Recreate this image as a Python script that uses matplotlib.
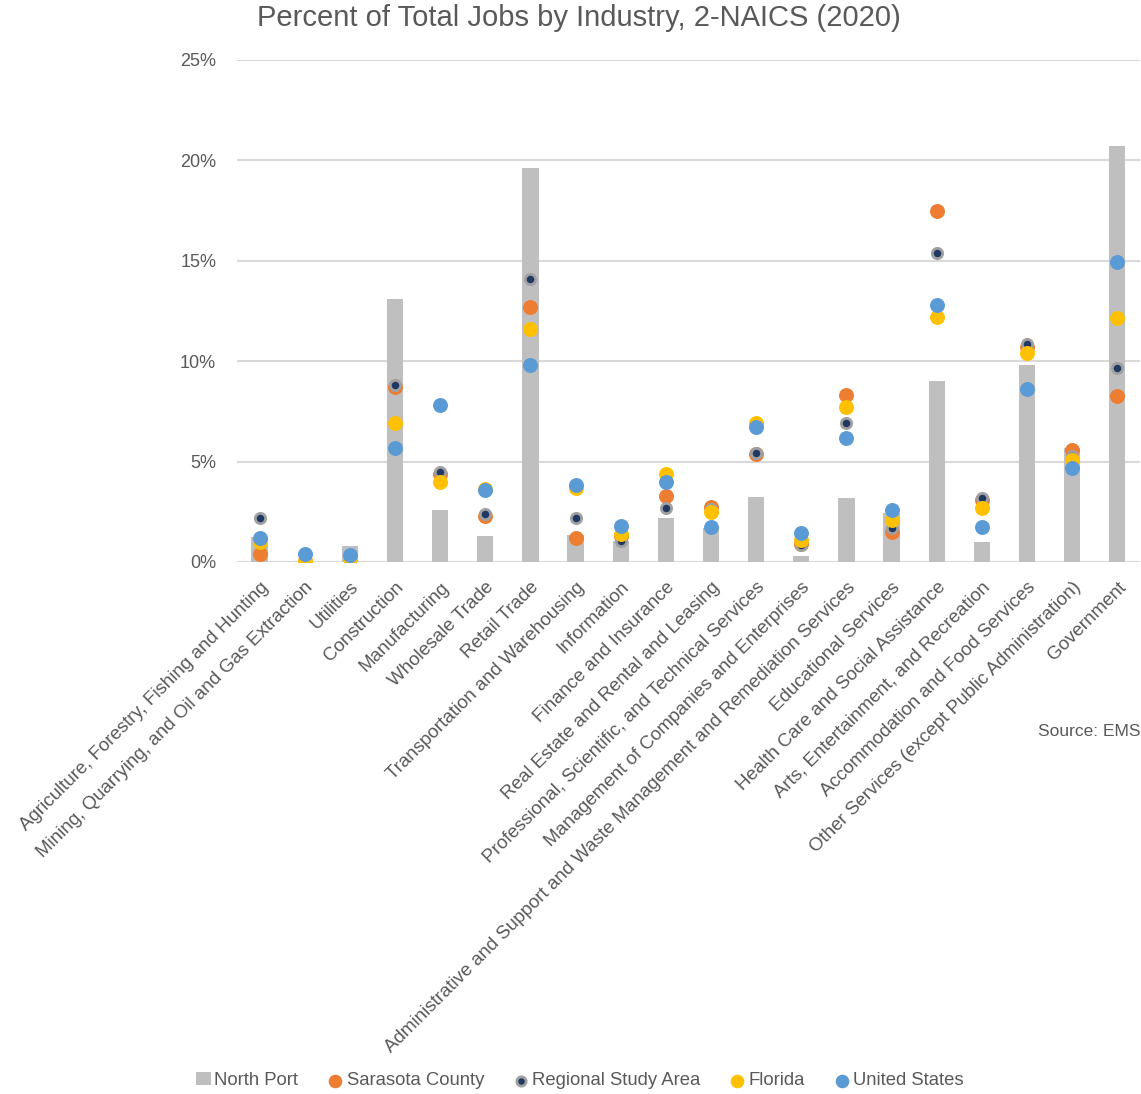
import numpy as np
import matplotlib
matplotlib.use('Agg')
import matplotlib.pyplot as plt
from matplotlib.ticker import FuncFormatter

plt.rcParams['font.family'] = ['Liberation Sans', 'DejaVu Sans']

industries = [
    'Agriculture, Forestry, Fishing and Hunting',
    'Mining, Quarrying, and Oil and Gas Extraction',
    'Utilities',
    'Construction',
    'Manufacturing',
    'Wholesale Trade',
    'Retail Trade',
    'Transportation and Warehousing',
    'Information',
    'Finance and Insurance',
    'Real Estate and Rental and Leasing',
    'Professional, Scientific, and Technical Services',
    'Management of Companies and Enterprises',
    'Administrative and Support and Waste Management and Remediation Services',
    'Educational Services',
    'Health Care and Social Assistance',
    'Arts, Entertainment, and Recreation',
    'Accommodation and Food Services',
    'Other Services (except Public Administration)',
    'Government',
]

# percent of total jobs
north_port = [1.25, 0.02, 0.8, 13.1, 2.6, 1.3, 19.6, 1.35, 1.05, 2.2,
              1.7, 3.25, 0.3, 3.2, 2.45, 9.0, 1.0, 9.8, 5.7, 20.7]
sarasota = [0.4, 0.05, 0.2, 8.7, 4.4, 2.3, 12.7, 1.2, 1.3, 3.3,
            2.75, 5.4, 0.9, 8.3, 1.5, 17.5, 3.1, 10.7, 5.6, 8.25]
regional = [2.2, 0.05, 0.25, 8.8, 4.5, 2.4, 14.1, 2.2, 1.05, 2.7,
            2.65, 5.45, 0.85, 6.9, 1.7, 15.4, 3.2, 10.85, 5.3, 9.65]
florida = [1.0, 0.05, 0.2, 6.9, 4.0, 3.65, 11.6, 3.7, 1.4, 4.4,
           2.5, 6.9, 1.1, 7.7, 2.1, 12.2, 2.7, 10.4, 5.1, 12.15]
united_states = [1.2, 0.4, 0.35, 5.7, 7.8, 3.6, 9.8, 3.85, 1.8, 4.0,
                 1.75, 6.7, 1.45, 6.15, 2.6, 12.8, 1.75, 8.6, 4.7, 14.95]

text_color = '#595959'
x = np.arange(len(industries))

fig = plt.figure(figsize=(11.41, 10.94), dpi=100)
ax = fig.add_axes([0.2077, 0.4863, 0.7913, 0.4589])

bars = ax.bar(x, north_port, width=0.36, color='#BFBFBF', label='North Port', zorder=2)
ax.scatter(x, sarasota, s=95, color='#ED7D31', label='Sarasota County', zorder=3)
ax.scatter(x, regional, s=55, color='#1F3864', edgecolors='#A0A0A0',
           linewidths=2.0, label='Regional Study Area', zorder=4)
ax.scatter(x, florida, s=95, color='#FFC000', label='Florida', zorder=5)
ax.scatter(x, united_states, s=95, color='#5B9BD5', label='United States', zorder=6)

ax.set_xlim(-0.5, len(industries) - 0.5)
ax.set_ylim(0, 25)
ax.set_yticks([0, 5, 10, 15, 20, 25])
ax.yaxis.set_major_formatter(FuncFormatter(lambda v, p: f'{v:.0f}%'))
ax.grid(axis='y', color='#D9D9D9', linewidth=1.5, zorder=0)
ax.set_axisbelow(True)
for s in ['top', 'right', 'left', 'bottom']:
    ax.spines[s].set_visible(False)
ax.tick_params(axis='y', length=0, pad=15, labelsize=13, labelcolor=text_color)
ax.tick_params(axis='x', length=0, pad=12, labelsize=13.5, labelcolor=text_color)
ax.set_xticks(x)
ax.set_xticklabels(industries, rotation=45, ha='right', va='top',
                   rotation_mode='anchor')

fig.text(0.507, 0.984, 'Percent of Total Jobs by Industry, 2-NAICS (2020)',
         ha='center', va='center', fontsize=21, color=text_color)
fig.text(1038 / 1141, 1 - 731 / 1094, 'Source: EMSI', ha='left', va='center',
         fontsize=12.5, color=text_color)

handles, labels = ax.get_legend_handles_labels()
order = [labels.index(n) for n in ['North Port', 'Sarasota County',
                                   'Regional Study Area', 'Florida', 'United States']]
leg = fig.legend([handles[i] for i in order], [labels[i] for i in order],
                 loc='center', bbox_to_anchor=(0.508, 0.012),
                 ncol=5, frameon=False, fontsize=13.3, handlelength=0.8,
                 handletextpad=0.2, columnspacing=1.6, markerscale=0.9)
for t in leg.get_texts():
    t.set_color(text_color)

fig.savefig('out.png', dpi=100)
